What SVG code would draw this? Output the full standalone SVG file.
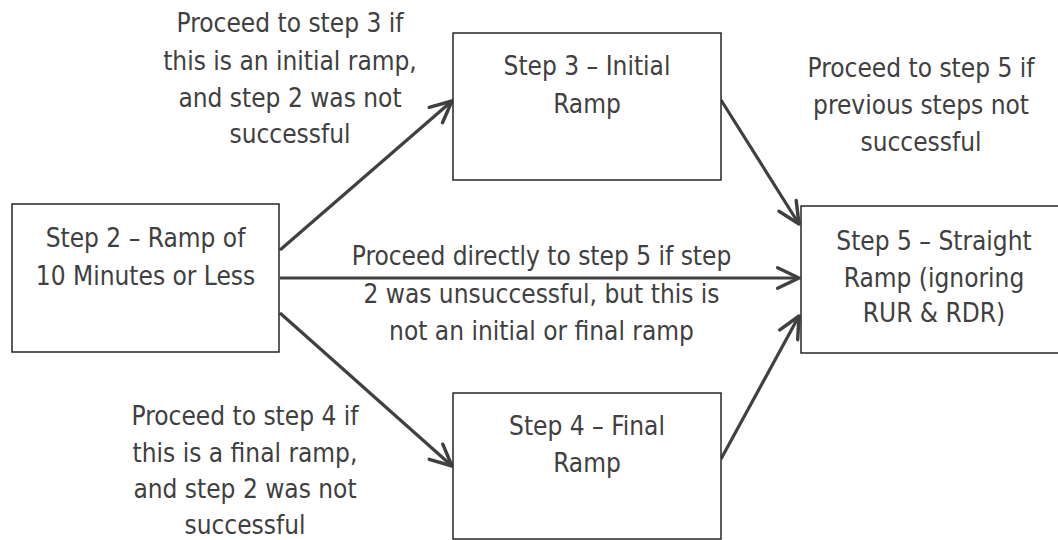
<svg xmlns="http://www.w3.org/2000/svg" width="1058" height="540" viewBox="0 0 1058 540">
<style>
  .box { fill: #ffffff; stroke: #262626; stroke-width: 1.5; }
  .t { font-family: "DejaVu Sans Condensed", "DejaVu Sans", sans-serif; font-stretch: condensed; font-size: 26px; fill: #404040; text-anchor: middle; }
  .conn { stroke: #404040; stroke-width: 3.2; fill: none; marker-end: url(#arr); }
</style>
<defs>
  <marker id="arr" markerUnits="userSpaceOnUse" markerWidth="30" markerHeight="30" viewBox="-24 -12 28 24" refX="0" refY="0" orient="auto" overflow="visible">
    <path d="M -20 -9.5 L 0 0 L -20 9.5" fill="none" stroke="#404040" stroke-width="3.2" stroke-linejoin="round" stroke-linecap="round"/>
  </marker>
</defs>
<rect width="1058" height="540" fill="#ffffff"/>
<g id="connectors">
  <line class="conn" x1="280" y1="250" x2="452" y2="101"/>
  <line class="conn" x1="280" y1="278" x2="799" y2="278"/>
  <line class="conn" x1="280" y1="313" x2="452" y2="466"/>
  <line class="conn" x1="721" y1="100" x2="799" y2="224"/>
  <line class="conn" x1="721" y1="459" x2="799" y2="316"/>
</g>
<g id="step2">
  <rect class="box" x="12" y="204" width="267" height="148"/>
  <text class="t" x="145.5" y="247">Step 2 – Ramp of</text>
  <text class="t" x="145.5" y="285">10 Minutes or Less</text>
</g>
<g id="step3">
  <rect class="box" x="453" y="33" width="268" height="147"/>
  <text class="t" x="587" y="75">Step 3 – Initial</text>
  <text class="t" x="587" y="113">Ramp</text>
</g>
<g id="step4">
  <rect class="box" x="453" y="393" width="268" height="146"/>
  <text class="t" x="587" y="435">Step 4 – Final</text>
  <text class="t" x="587" y="472">Ramp</text>
</g>
<g id="step5">
  <rect class="box" x="801" y="206" width="266" height="147"/>
  <text class="t" x="934" y="250">Step 5 – Straight</text>
  <text class="t" x="934" y="286.5">Ramp (ignoring</text>
  <text class="t" x="934" y="322">RUR &amp; RDR)</text>
</g>
<g id="labels">
  <text class="t" x="290" y="32">Proceed to step 3 if</text>
  <text class="t" x="290" y="69.5">this is an initial ramp,</text>
  <text class="t" x="290" y="106.5">and step 2 was not</text>
  <text class="t" x="290" y="143">successful</text>
  <text class="t" x="921" y="77">Proceed to step 5 if</text>
  <text class="t" x="921" y="114">previous steps not</text>
  <text class="t" x="921" y="151">successful</text>
  <text class="t" x="541.5" y="265">Proceed directly to step 5 if step</text>
  <text class="t" x="541.5" y="303">2 was unsuccessful, but this is</text>
  <text class="t" x="541.5" y="340">not an initial or final ramp</text>
  <text class="t" x="245" y="425">Proceed to step 4 if</text>
  <text class="t" x="245" y="461.5">this is a final ramp,</text>
  <text class="t" x="245" y="498">and step 2 was not</text>
  <text class="t" x="245" y="533.5">successful</text>
</g>
</svg>
